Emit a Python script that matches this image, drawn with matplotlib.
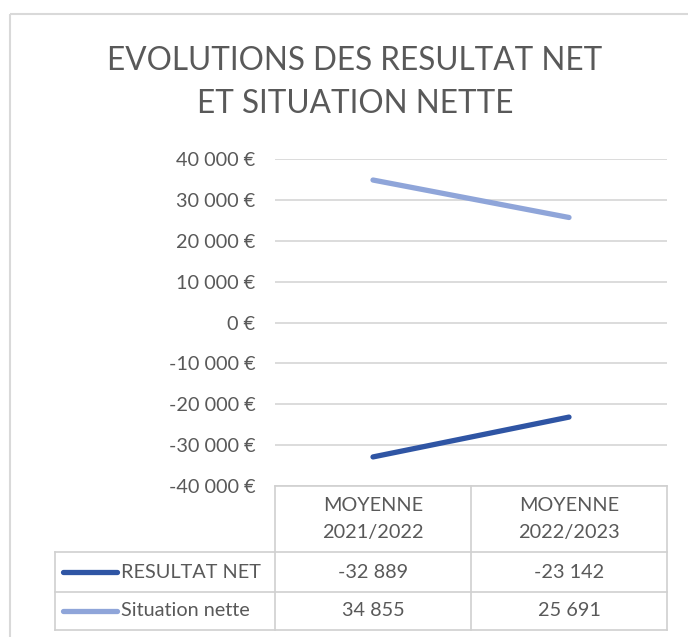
import matplotlib
matplotlib.use("Agg")
import matplotlib.pyplot as plt
from matplotlib.patches import Rectangle

# ---- data ----
categories = ["MOYENNE\n2021/2022", "MOYENNE\n2022/2023"]
series_names = ["RESULTAT NET", "Situation nette"]
resultat_net = [-32889, -23142]
situation_nette = [34855, 25691]
yticks = [-40000, -30000, -20000, -10000, 0, 10000, 20000, 30000, 40000]

colors = ["#2F55A4", "#8FA5D9"]
text_col = "#595959"
grid_col = "#D9D9D9"
FONT = "Lato"
FS = 14.3

W, H = 688, 637
fig = plt.figure(figsize=(W / 100, H / 100), dpi=100)

def fx(x):
    return x / W

def fy(y):
    return 1 - y / H

# plot area (pixel coords)
L, R, T, B = 275, 667, 159, 486
ax = fig.add_axes([fx(L), fy(B), fx(R) - fx(L), fy(T) - fy(B)])
x = list(range(len(categories)))
for vals, c in zip([resultat_net, situation_nette], colors):
    ax.plot(x, vals, color=c, lw=3.8, solid_capstyle="round")
ax.set_xlim(-0.5, len(categories) - 0.5)
ax.set_ylim(yticks[0], yticks[-1])
ax.set_yticks(yticks)
ax.set_yticklabels([f"{v:,}".replace(",", " ") + " €" for v in yticks],
                   fontsize=FS, color=text_col, family=FONT)
ax.tick_params(axis="y", length=0, pad=14)
ax.set_xticks([])
ax.yaxis.grid(True, color=grid_col, lw=1.3)
ax.set_axisbelow(True)
for s in ax.spines.values():
    s.set_visible(False)

# overlay for title, border
ov = fig.add_axes([0, 0, 1, 1], zorder=-1)
ov.set_xlim(0, W)
ov.set_ylim(H, 0)
ov.axis("off")
ov.add_patch(Rectangle((10, 14), 700, 660, fill=False, ec=grid_col, lw=1.5))

ov.text(355, 61, "EVOLUTIONS DES RESULTAT NET", ha="center", va="center",
        fontsize=22.7, color=text_col, family=FONT)
ov.text(355, 104, "ET SITUATION NETTE", ha="center", va="center",
        fontsize=22.7, color=text_col, family=FONT)

# data table
tab = fig.add_axes([0, 0, 1, 1])
tab.set_xlim(0, W)
tab.set_ylim(H, 0)
tab.axis("off")
lc = "#D0D0D0"
colx = [L, 471, R]
header_top = B
row_bounds = [552, 592, 630]
legend_left = 55
tab.plot([colx[0], colx[-1]], [header_top, header_top], color=lc, lw=1.2)
for cx in colx:
    tab.plot([cx, cx], [header_top, row_bounds[-1]], color=lc, lw=1.2)
for yb in row_bounds:
    tab.plot([legend_left, colx[-1]], [yb, yb], color=lc, lw=1.2)
tab.plot([legend_left, legend_left], [row_bounds[0], row_bounds[-1]], color=lc, lw=1.2)

for i, cat in enumerate(categories):
    tab.text((colx[i] + colx[i + 1]) / 2, 519, cat,
             ha="center", va="center", fontsize=FS, color=text_col, family=FONT,
             linespacing=1.7)

for r, (name, vals, c) in enumerate(zip(series_names, [resultat_net, situation_nette], colors)):
    yc = (row_bounds[r] + row_bounds[r + 1]) / 2
    tab.plot([63, 117], [yc, yc], color=c, lw=3.8, solid_capstyle="round")
    tab.text(121, yc, name, ha="left", va="center", fontsize=FS,
             color=text_col, family=FONT)
    for i, v in enumerate(vals):
        tab.text((colx[i] + colx[i + 1]) / 2, yc, f"{v:,}".replace(",", " "),
                 ha="center", va="center", fontsize=FS, color=text_col, family=FONT)

fig.savefig("out.png", dpi=100, facecolor="white")
